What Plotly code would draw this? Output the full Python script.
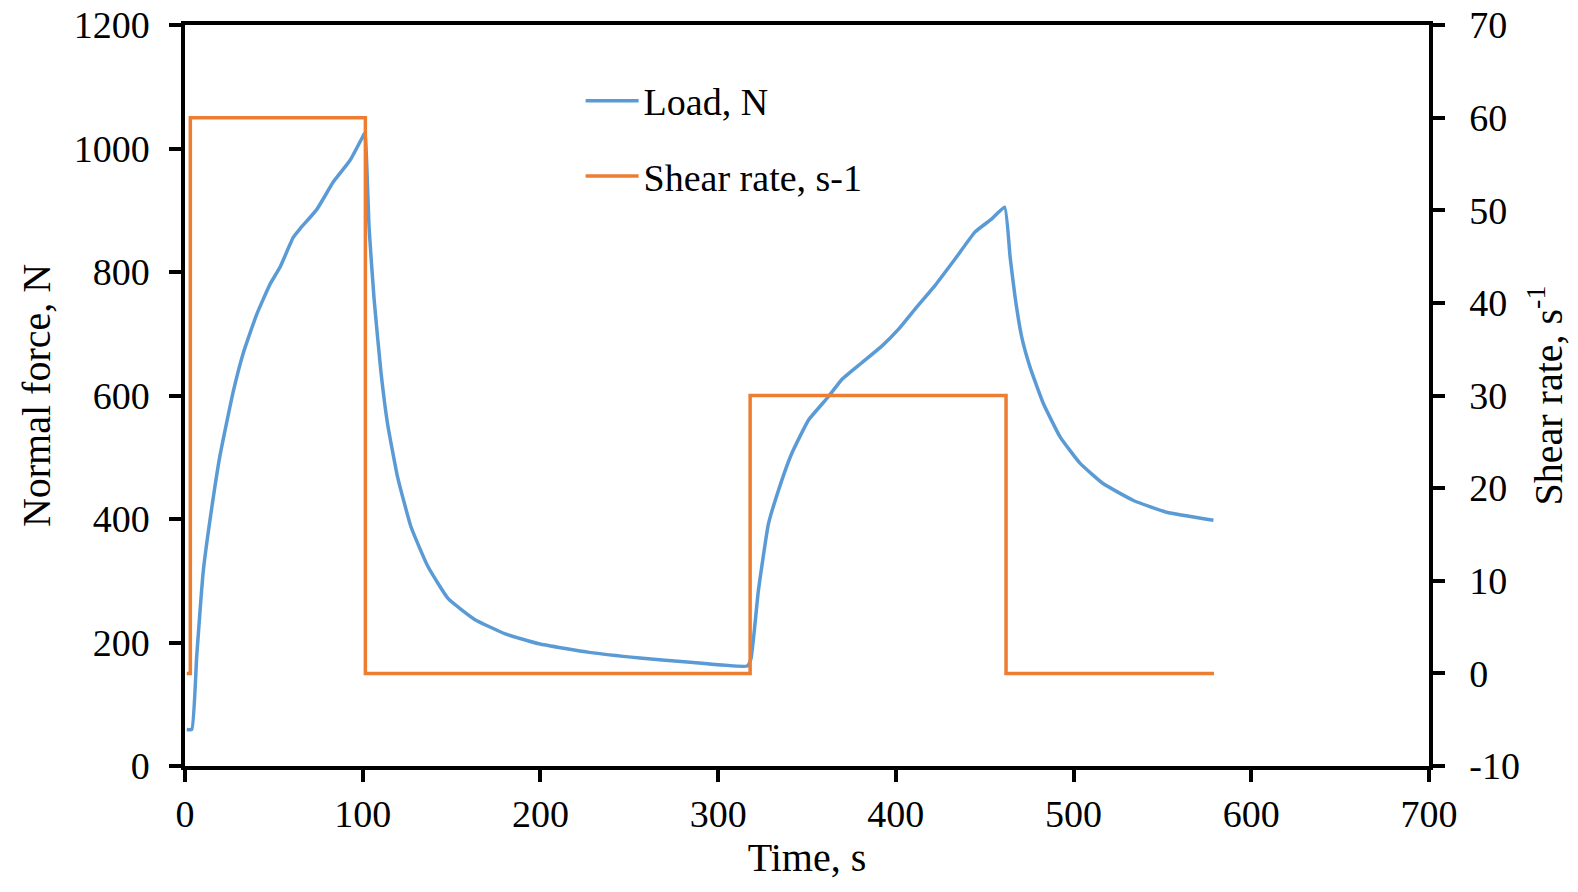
import plotly.graph_objects as go

# Load, N (left axis)
load_time = [1, 3.8, 6.6, 10.3, 14.1, 19.7, 27.2, 32.8, 40.3, 47.8, 53.5, 60.9, 64.7,
             74.1, 83.5, 92.9, 100, 101.2, 103.6, 106.4, 110.2, 114, 119.7, 127.2,
             136.7, 148.1, 163.2, 180.2, 199.1, 227.5, 255.9, 284.3, 316.4, 318.5,
             322.6, 328.3, 333.9, 341.4, 350.8, 362, 369.6, 380.8, 392.1, 401.4,
             410.8, 422, 433.3, 444.6, 454, 461.2, 464.3, 467.1, 470.8, 475.5, 483,
             492.4, 503.7, 516.8, 533.7, 552.4, 578.7]
load_n = [59, 59, 178, 316, 399, 503, 607, 669, 731, 780, 808, 856, 870,
          901, 946, 981, 1019, 1025, 871, 756, 640, 554, 467, 387,
          323, 271, 237, 214, 198, 184, 175, 168, 162, 174,
          283, 392, 446, 506, 560, 598, 626, 653, 680, 707,
          740, 778, 821, 865, 886, 905, 824, 759, 695, 646, 587,
          533, 490, 457, 430, 411, 398]

# Shear rate, s-1 (right axis)
shear_time = [1, 3, 3, 101.5, 101.5, 318, 318, 462, 462, 579]
shear_rate = [0, 0, 60, 60, 0, 0, 30, 30, 0, 0]

x_ticks = [0, 100, 200, 300, 400, 500, 600, 700]
y_ticks = [0, 200, 400, 600, 800, 1000, 1200]
y2_ticks = [-10, 0, 10, 20, 30, 40, 50, 60, 70]
y2_labels = ["-10", "0", "10", "20", "30", "40", "50", "60", "70"]

FONT = "Liberation Serif"
BLUE = "#5B9BD5"
ORANGE = "#ED7D31"

fig = go.Figure()
fig.add_trace(go.Scatter(x=load_time, y=load_n, mode="lines", name="Load, N",
                         line=dict(color=BLUE, width=3.5, shape="spline", smoothing=0.4),
                         legendgroup="a"))
fig.add_trace(go.Scatter(x=shear_time, y=shear_rate, mode="lines", name="Shear rate, s-1",
                         line=dict(color=ORANGE, width=3.5), yaxis="y2", legendgroup="b"))

axis_common = dict(showgrid=False, zeroline=False, showline=True, linecolor="black",
                   linewidth=3.5, ticks="outside", ticklen=12, tickwidth=3.5, tickcolor="black",
                   tickfont=dict(family=FONT, size=38, color="black"))

fig.update_layout(
    width=1578, height=892,
    margin=dict(l=185, r=149, t=25, b=126, autoexpand=False),
    paper_bgcolor="white", plot_bgcolor="white",
    font=dict(family=FONT, size=38, color="black"),
    xaxis=dict(range=[0, 700], tickvals=x_ticks, mirror=True,
               title=dict(text="Time, s", font=dict(family=FONT, size=40), standoff=10),
               **axis_common),
    yaxis=dict(range=[0, 1200], tickvals=y_ticks, ticklabelstandoff=12,
               title=dict(text="Normal force, N", font=dict(family=FONT, size=40), standoff=12),
               **axis_common),
    yaxis2=dict(range=[-10, 70], tickvals=y2_ticks, ticktext=y2_labels, overlaying="y",
                side="right", ticklabelstandoff=17,
                title=dict(text="Shear rate, s<sup>-1</sup>", font=dict(family=FONT, size=40), standoff=16),
                **axis_common),
    legend=dict(x=0.318, y=0.94, xanchor="left", yanchor="top", bgcolor="rgba(0,0,0,0)",
                font=dict(family=FONT, size=38), traceorder="grouped", tracegroupgap=23,
                itemwidth=53),
    showlegend=True,
)

fig.write_html("out.html")
